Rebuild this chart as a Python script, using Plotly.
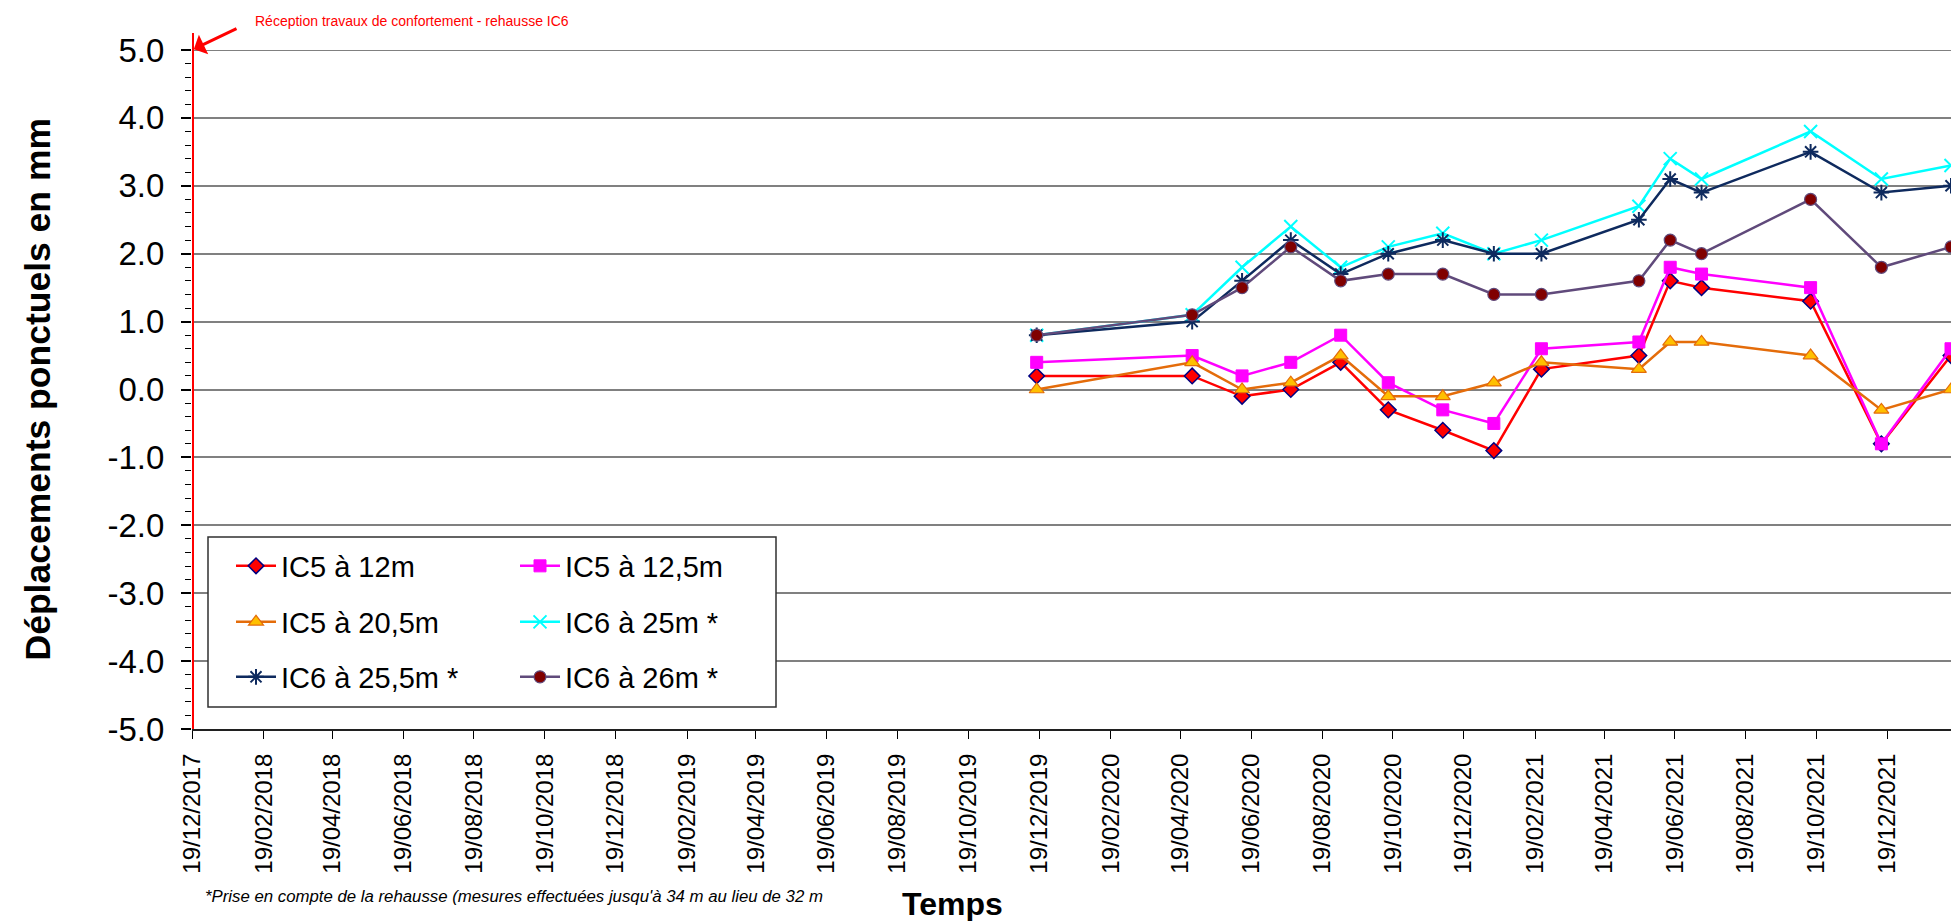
import plotly.graph_objects as go

# ---------------- data ----------------
dates = ["2019-12-17", "2020-04-29", "2020-06-11", "2020-07-23", "2020-09-04",
         "2020-10-15", "2020-12-01", "2021-01-14", "2021-02-24", "2021-05-19",
         "2021-06-15", "2021-07-12", "2021-10-14", "2021-12-14", "2022-02-12"]

ic5_12 = [0.2, 0.2, -0.1, 0.0, 0.4, -0.3, -0.6, -0.9, 0.3, 0.5, 1.6, 1.5, 1.3, -0.8, 0.5]
ic5_125 = [0.4, 0.5, 0.2, 0.4, 0.8, 0.1, -0.3, -0.5, 0.6, 0.7, 1.8, 1.7, 1.5, -0.8, 0.6]
ic5_205 = [0.0, 0.4, 0.0, 0.1, 0.5, -0.1, -0.1, 0.1, 0.4, 0.3, 0.7, 0.7, 0.5, -0.3, 0.0]
ic6_25 = [0.8, 1.1, 1.8, 2.4, 1.8, 2.1, 2.3, 2.0, 2.2, 2.7, 3.4, 3.1, 3.8, 3.1, 3.3]
ic6_255 = [0.8, 1.0, 1.6, 2.2, 1.7, 2.0, 2.2, 2.0, 2.0, 2.5, 3.1, 2.9, 3.5, 2.9, 3.0]
ic6_26 = [0.8, 1.1, 1.5, 2.1, 1.6, 1.7, 1.7, 1.4, 1.4, 1.6, 2.2, 2.0, 2.8, 1.8, 2.1]

series_names = ["IC5 à 12m", "IC5 à 12,5m", "IC5 à 20,5m",
                "IC6 à 25m *", "IC6 à 25,5m *", "IC6 à 26m *"]

x_tick_dates = ["2017-12-19", "2018-02-19", "2018-04-19", "2018-06-19", "2018-08-19",
                "2018-10-19", "2018-12-19", "2019-02-19", "2019-04-19", "2019-06-19",
                "2019-08-19", "2019-10-19", "2019-12-19", "2020-02-19", "2020-04-19",
                "2020-06-19", "2020-08-19", "2020-10-19", "2020-12-19", "2021-02-19",
                "2021-04-19", "2021-06-19", "2021-08-19", "2021-10-19", "2021-12-19"]
x_range = ["2017-12-19", "2022-02-12"]

y_tick_vals = [-5, -4, -3, -2, -1, 0, 1, 2, 3, 4, 5]
y_tick_text = ["-5.0", "-4.0", "-3.0", "-2.0", "-1.0", "0.0", "1.0", "2.0", "3.0", "4.0", "5.0"]
y_top = 5

reception_date = "2017-12-19"

# ---------------- styles ----------------
FONT = "Liberation Sans, Arial, sans-serif"
W, H = 1951, 921
ML, MR, MT, MB = 192, 0, 50, 192
PW, PH = W - ML - MR, H - MT - MB


def px_x(p):
    return (p - ML) / PW


def px_y(p):
    return (H - MB - p) / PH


styles = [
    dict(line=dict(color="#FF0000", width=2.5),
         marker=dict(symbol="diamond", size=12, color="#FF0000", line=dict(color="#000080", width=1.5))),
    dict(line=dict(color="#FF00FF", width=2.5),
         marker=dict(symbol="square", size=12, color="#FF00FF", line=dict(color="#FF00FF", width=1))),
    dict(line=dict(color="#E46C0A", width=2.5),
         marker=dict(symbol="triangle-up", size=13, color="#FFC000", line=dict(color="#E46C0A", width=1.2))),
    dict(line=dict(color="#00FFFF", width=2.5),
         marker=dict(symbol="x-thin-open", size=13, color="#00FFFF", line=dict(color="#00FFFF", width=2))),
    dict(line=dict(color="#0E2A5E", width=2.5),
         marker=dict(symbol="asterisk-open", size=13, color="#0E2A5E", line=dict(color="#0E2A5E", width=2))),
    dict(line=dict(color="#604A7B", width=2.5),
         marker=dict(symbol="circle", size=12, color="#800000", line=dict(color="#604A7B", width=1.2))),
]

all_series = [ic5_12, ic5_125, ic5_205, ic6_25, ic6_255, ic6_26]
legend_ids = ["legend", "legend4", "legend2", "legend5", "legend3", "legend6"]

fig = go.Figure()
for name, vals, st, lg in zip(series_names, all_series, styles, legend_ids):
    fig.add_trace(go.Scatter(x=dates, y=vals, name=name, mode="lines+markers",
                             line=st["line"], marker=st["marker"], legend=lg))

# legends: two columns, three rows
row_y = [px_y(566), px_y(622), px_y(677)]
col_x = [px_x(231), px_x(515)]
legend_font = dict(family=FONT, size=29, color="black")
leg_common = dict(font=legend_font, bgcolor="rgba(0,0,0,0)", borderwidth=0,
                  xanchor="left", yanchor="middle", itemwidth=40)
layout_legends = {}
for i, lg in enumerate(["legend", "legend2", "legend3", "legend4", "legend5", "legend6"]):
    col = i // 3
    row = i % 3
    layout_legends[lg] = dict(x=col_x[col], y=row_y[row], **leg_common)

fig.update_layout(
    width=W, height=H,
    margin=dict(l=ML, r=MR, t=MT, b=MB, autoexpand=False),
    paper_bgcolor="white", plot_bgcolor="white",
    showlegend=True,
    font=dict(family=FONT, color="black"),
    **layout_legends,
)

fig.update_xaxes(
    type="date", range=x_range,
    tickmode="array", tickvals=x_tick_dates, tickformat="%d/%m/%Y",
    tickangle=-90, tickfont=dict(family=FONT, size=24, color="black"),
    ticks="outside", ticklen=8, tickwidth=1.2, tickcolor="black",
    ticklabelstandoff=5,
    showgrid=False, zeroline=False,
    showline=True, linecolor="#202020", linewidth=2,
)

fig.update_yaxes(
    range=[-5, 5],
    tickmode="array", tickvals=y_tick_vals, ticktext=y_tick_text,
    tickfont=dict(family=FONT, size=33, color="black"),
    ticks="outside", ticklen=10, tickwidth=1.5, tickcolor="black",
    ticklabelstandoff=10,
    minor=dict(tickmode="linear", tick0=0, dtick=0.2, ticks="outside", ticklen=6,
               tickwidth=1.2, tickcolor="black", showgrid=False),
    showgrid=True, gridcolor="#808080", gridwidth=2,
    zeroline=False, showline=False,
)

# top gridline (5.0)
fig.add_shape(type="line", xref="paper", yref="y", x0=0, x1=1, y0=y_top, y1=y_top,
              line=dict(color="#808080", width=2), layer="below")

# legend frame
fig.add_shape(type="rect", xref="paper", yref="paper",
              x0=px_x(208), x1=px_x(776), y0=px_y(707), y1=px_y(537),
              line=dict(color="#303030", width=1.5), fillcolor="white", layer="above")

# red reception line
fig.add_shape(type="line", xref="x", yref="paper",
              x0=reception_date, x1=reception_date, y0=0, y1=px_y(33),
              line=dict(color="#FF0000", width=4), layer="above")

# arrow
fig.add_annotation(x=reception_date, y=y_top, xref="x", yref="y", text="",
                   showarrow=True, arrowhead=1, arrowsize=1.2, arrowwidth=3,
                   arrowcolor="#FF0000", ax=46, ay=-22, standoff=2)

fig.add_annotation(x=px_x(253), y=px_y(21), xref="paper", yref="paper",
                   xanchor="left", yanchor="middle", showarrow=False,
                   text="Réception travaux de confortement - rehausse IC6",
                   font=dict(family=FONT, size=14, color="#FF0000"))

# axis titles
fig.add_annotation(x=px_x(37), y=0.5, xref="paper", yref="paper",
                   xanchor="center", yanchor="middle", showarrow=False, textangle=-90,
                   text="<b>Déplacements ponctuels en mm</b>",
                   font=dict(family=FONT, size=35.5, color="black"))

fig.add_annotation(x=px_x(952), y=px_y(904), xref="paper", yref="paper",
                   xanchor="center", yanchor="middle", showarrow=False,
                   text="<b>Temps</b>",
                   font=dict(family=FONT, size=32, color="black"))

fig.add_annotation(x=px_x(203), y=px_y(896), xref="paper", yref="paper",
                   xanchor="left", yanchor="middle", showarrow=False,
                   text="<i>*Prise en compte de la rehausse (mesures effectuées jusqu'à 34 m au lieu de 32 m</i>",
                   font=dict(family=FONT, size=16.8, color="black"))

fig.write_html("out.html",
               config={"displayModeBar": False},
               post_script="document.body.style.margin='0';document.body.style.overflow='hidden';")
